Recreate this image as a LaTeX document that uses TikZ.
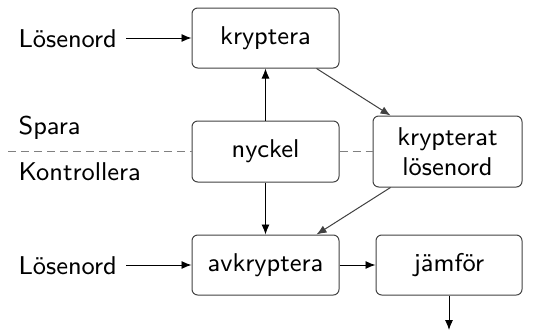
\documentclass[tikz,border=0pt]{standalone}
\usetikzlibrary{arrows.meta}
\begin{document}
\begin{tikzpicture}[x=0.35pt,y=-0.35pt,
  font=\sffamily\fontsize{9}{10.5}\selectfont,
  box/.style={draw=black!75, line width=0.35pt, rounded corners=2pt, align=center, inner sep=0pt},
  arr/.style={-{Latex[length=3.5pt,width=2.8pt]}, line width=0.33pt, black},
  darr/.style={-{Latex[length=3.5pt,width=2.8pt]}, line width=0.35pt, black!75},
  dsh/.style={gray, dash pattern=on 2.8pt off 1.75pt, line width=0.35pt},
  lbl/.style={inner sep=0pt, anchor=base west}]
\useasboundingbox (0,0) rectangle (537,330);
\node[box, minimum width=51.45pt, minimum height=21pt] (k) at (265.5,38) {kryptera};
\node[box, minimum width=51.45pt, minimum height=21.35pt] (n) at (265.5,151.5) {nyckel};
\node[box, minimum width=52.15pt, minimum height=24.85pt] (kl) at (447.5,151.5) {krypterat\\lösenord};
\node[box, minimum width=51.45pt, minimum height=21pt] (a) at (265.5,265) {avkryptera};
\node[box, minimum width=51.1pt, minimum height=21pt] (j) at (449,265) {jämför};
\node[lbl] (l1) at (18,47) {Lösenord};
\node[lbl] (l2) at (18,274) {Lösenord};
\node[lbl] (sp) at (18,134) {Spara};
\node[lbl] (ko) at (18,180) {Kontrollera};
\coordinate (dl) at (8,151.5);
\coordinate (out) at (449,330);
\draw[dsh] (dl) -- (n.west);
\draw[dsh] (n.east) -- (kl.west);
\draw[arr] ([xshift=3pt]l1.east |- k.west) -- (k.west);
\draw[arr] ([xshift=3pt]l2.east |- a.west) -- (a.west);
\draw[arr] (n.north) -- (k.south);
\draw[arr] (n.south) -- (a.north);
\draw[darr] ([xshift=-8.05pt]k.south east) -- ([xshift=6.3pt]kl.north west);
\draw[darr] ([xshift=6.3pt]kl.south west) -- ([xshift=-8.05pt]a.north east);
\draw[arr] (a.east) -- (j.west);
\draw[arr] (j.south) -- (out);
\end{tikzpicture}
\end{document}
